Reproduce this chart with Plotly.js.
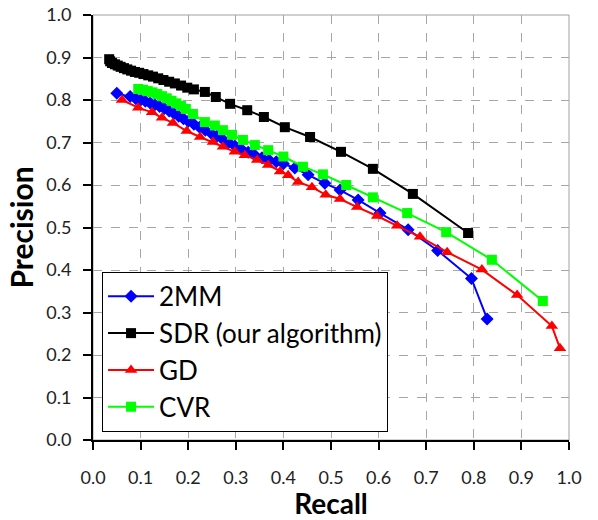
<!DOCTYPE html>
<html>
<head>
<meta charset="utf-8">
<script src="https://cdn.plot.ly/plotly-3.0.1.min.js"></script>
<style>html,body{margin:0;padding:0;background:#fff;}#chart{width:598px;height:520px;}</style>
</head>
<body>
<div id="chart"></div>
<script>
// ---- data ----
const mm2Recall = [0.050,0.078,0.090,0.100,0.110,0.120,0.130,0.140,0.150,0.160,0.170,0.180,0.190,0.200,0.212,0.224,0.236,0.248,0.260,0.272,0.285,0.298,0.312,0.326,0.340,0.355,0.370,0.385,0.400,0.424,0.452,0.487,0.519,0.557,0.603,0.662,0.724,0.795,0.828];
const mm2Prec   = [0.816,0.808,0.803,0.800,0.797,0.793,0.789,0.785,0.780,0.774,0.768,0.762,0.756,0.750,0.743,0.736,0.729,0.722,0.715,0.708,0.700,0.692,0.684,0.677,0.670,0.664,0.659,0.655,0.650,0.640,0.624,0.604,0.588,0.565,0.534,0.495,0.446,0.380,0.285];

const sdrRecall = [0.034,0.036,0.040,0.046,0.052,0.058,0.065,0.072,0.080,0.088,0.097,0.106,0.116,0.126,0.137,0.148,0.160,0.172,0.185,0.198,0.212,0.235,0.258,0.288,0.324,0.359,0.403,0.456,0.521,0.588,0.672,0.788];
const sdrPrec   = [0.896,0.891,0.887,0.884,0.881,0.878,0.875,0.872,0.869,0.866,0.864,0.861,0.858,0.855,0.851,0.847,0.843,0.839,0.834,0.829,0.825,0.819,0.807,0.791,0.776,0.760,0.736,0.713,0.678,0.638,0.579,0.487];

const gdRecall = [0.061,0.095,0.124,0.145,0.168,0.197,0.225,0.252,0.273,0.298,0.319,0.345,0.368,0.393,0.410,0.431,0.460,0.489,0.519,0.555,0.597,0.639,0.687,0.744,0.817,0.891,0.964,0.981];
const gdPrec   = [0.800,0.782,0.771,0.758,0.746,0.727,0.713,0.701,0.690,0.678,0.670,0.659,0.647,0.632,0.623,0.607,0.595,0.577,0.567,0.548,0.527,0.504,0.478,0.442,0.401,0.341,0.268,0.216];

const cvrRecall = [0.095,0.105,0.115,0.125,0.135,0.145,0.155,0.165,0.175,0.185,0.195,0.210,0.235,0.256,0.273,0.292,0.315,0.340,0.368,0.400,0.441,0.483,0.532,0.588,0.660,0.742,0.838,0.945];
const cvrPrec   = [0.826,0.824,0.821,0.818,0.814,0.809,0.804,0.798,0.792,0.786,0.779,0.767,0.748,0.740,0.729,0.718,0.706,0.694,0.682,0.667,0.643,0.625,0.600,0.571,0.534,0.489,0.424,0.327];

const seriesNames = ["2MM", "SDR (our algorithm)", "GD", "CVR"];
const tickVals = [0,0.1,0.2,0.3,0.4,0.5,0.6,0.7,0.8,0.9,1.0];
const tickText = ["0.0","0.1","0.2","0.3","0.4","0.5","0.6","0.7","0.8","0.9","1.0"];

const FONT = "Lato, 'Open Sans', sans-serif";

function tr(x, y, name, color, symbol, size, grp) {
  return {
    x: x, y: y, name: name, type: "scatter", mode: "lines+markers",
    legendgroup: grp,
    line: {color: color, width: 2},
    marker: {color: color, symbol: symbol, size: size}
  };
}

const data = [
  tr(mm2Recall, mm2Prec, seriesNames[0], "#0000ff", "diamond", 10, "a"),
  tr(sdrRecall, sdrPrec, seriesNames[1], "#000000", "square", 10, "b"),
  tr(gdRecall, gdPrec, seriesNames[2], "#ff0000", "triangle-up", 11, "c"),
  tr(cvrRecall, cvrPrec, seriesNames[3], "#00ff00", "square", 10, "d")
];

const axisCommon = {
  range: [0, 1],
  tickmode: "array",
  tickvals: tickVals,
  ticktext: tickText,
  ticks: "outside",
  ticklen: 8,
  tickwidth: 2,
  tickcolor: "#000",
  showline: true,
  linecolor: "#000",
  linewidth: 2,
  showgrid: true,
  gridcolor: "#a6a6a6",
  griddash: "dash",
  gridwidth: 1,
  zeroline: false,
  tickfont: {family: FONT, size: 18, color: "#222"},
  fixedrange: true
};

const layout = {
  width: 598, height: 520,
  margin: {l: 93, r: 29, t: 15, b: 80},
  paper_bgcolor: "#fff",
  plot_bgcolor: "#fff",
  showlegend: true,
  xaxis: Object.assign({}, axisCommon, {
    ticklabelstandoff: 12,
    title: {text: "Recall", font: {family: FONT, size: 28, color: "#000", weight: "bold"}, standoff: 8}
  }),
  yaxis: Object.assign({}, axisCommon, {
    ticklabelstandoff: 8,
    title: {text: "Precision", font: {family: FONT, size: 30, color: "#000", weight: "bold"}, standoff: 4}
  }),
  legend: {
    x: 0.019, y: 0.019, xanchor: "left", yanchor: "bottom",
    bgcolor: "#fff", bordercolor: "#000", borderwidth: 1,
    font: {family: FONT, size: 26, color: "#000"},
    tracegroupgap: 0,
    itemwidth: 46
  },
  shapes: [{
    type: "rect", xref: "paper", yref: "paper", x0: 0, x1: 1, y0: 0, y1: 1,
    line: {color: "#a0a0a0", width: 1}, layer: "below"
  }]
};

Plotly.newPlot("chart", data, layout, {staticPlot: true, displayModeBar: false});
</script>
</body>
</html>
